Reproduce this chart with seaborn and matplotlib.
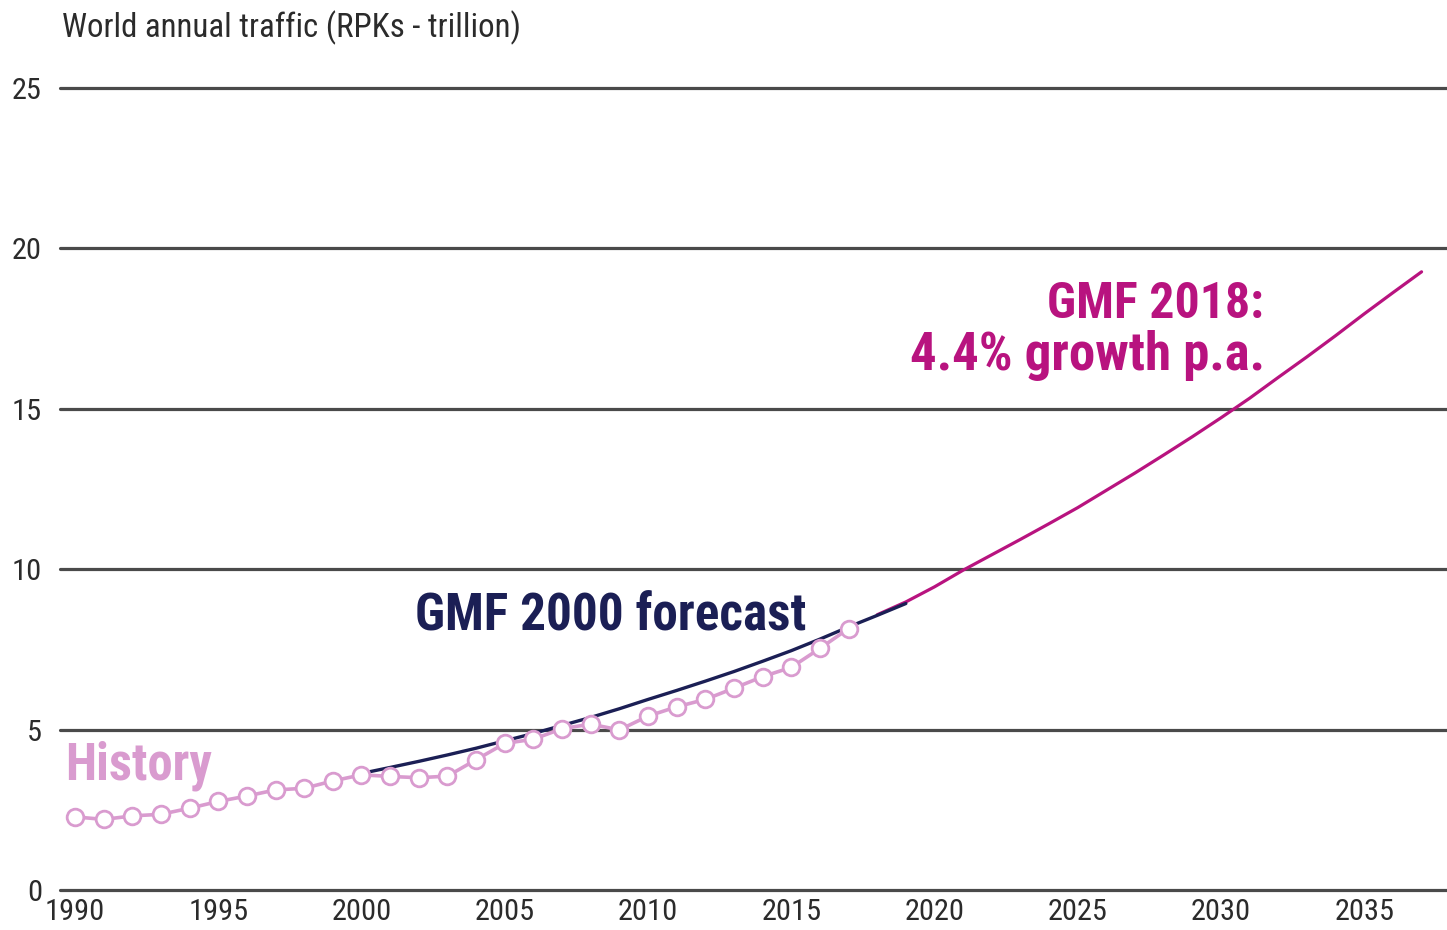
import matplotlib
matplotlib.use("Agg")
import matplotlib.pyplot as plt
import seaborn as sns
import pandas as pd
from matplotlib import font_manager

# ---------------- data ----------------
history_years = list(range(1990, 2018))
history_rpk = [2.28, 2.20, 2.31, 2.36, 2.55, 2.76, 2.93, 3.12, 3.17, 3.40,
               3.59, 3.54, 3.50, 3.55, 4.06, 4.57, 4.70, 5.03, 5.17, 4.99,
               5.42, 5.71, 5.94, 6.29, 6.65, 6.94, 7.53, 8.15]

gmf2000_years = [2000.3] + list(range(2001, 2020))
gmf2000_rpk = [3.69, 3.82, 4.01, 4.21, 4.42, 4.65, 4.88, 5.13, 5.38, 5.65,
               5.94, 6.22, 6.51, 6.81, 7.13, 7.46, 7.82, 8.20, 8.56, 8.93]

gmf2018_years = list(range(2018, 2038))
gmf2018_rpk = [8.58, 8.98, 9.45, 9.97, 10.45, 10.93, 11.42, 11.92, 12.46, 13.00,
               13.56, 14.13, 14.72, 15.33, 15.98, 16.62, 17.28, 17.96, 18.62, 19.27]

y_ticks = [0, 5, 10, 15, 20, 25]
x_ticks = [1990, 1995, 2000, 2005, 2010, 2015, 2020, 2025, 2030, 2035]

title_text = "World annual traffic (RPKs - trillion)"
label_history = "History"
label_gmf2000 = "GMF 2000 forecast"
label_gmf2018_a = "GMF 2018:"
label_gmf2018_b = "4.4% growth p.a."

# ---------------- style ----------------
sns.set_style("white")


def is_condensed(st):
    if isinstance(st, str):
        return "condensed" in st.lower() or "narrow" in st.lower()
    try:
        return int(st) < 100
    except Exception:
        return False


cond_names = {f.name for f in font_manager.fontManager.ttflist if is_condensed(f.stretch)}
prefs = ["Liberation Sans Narrow", "Roboto Condensed", "DejaVu Sans",
         "Open Sans", "Noto Sans", "Roboto"]
family = "DejaVu Sans"
stretch = "normal"
for p in prefs:
    if p in cond_names:
        family, stretch = p, "condensed"
        break
if stretch == "normal" and cond_names:
    family, stretch = sorted(cond_names)[0], "condensed"

plt.rcParams["font.family"] = [family, "DejaVu Sans"]
plt.rcParams["font.stretch"] = stretch

HIST_C = "#d99bcf"
NAVY_C = "#1b1f55"
MAG_C = "#b8137f"
GRID_C = "#4a4a4a"
TEXT_C = "#2b2b2b"

fig = plt.figure(figsize=(14.47, 9.30), dpi=100)
ax = fig.add_axes([60 / 1447, 40 / 930, 1 - 60 / 1447, 802 / 930])

x_left = 1990 - 15 / 28.65
x_right = 1990 + (1447 - 75) / 28.65
ax.set_xlim(x_left, x_right)
ax.set_ylim(0, 25)

for yv in y_ticks:
    ax.axhline(yv, color=GRID_C, lw=2.3, zorder=1, clip_on=False)

df_hist = pd.DataFrame({"year": history_years, "rpk": history_rpk})
df_2000 = pd.DataFrame({"year": gmf2000_years, "rpk": gmf2000_rpk})
df_2018 = pd.DataFrame({"year": gmf2018_years, "rpk": gmf2018_rpk})

sns.lineplot(data=df_2018, x="year", y="rpk", ax=ax, color=MAG_C, lw=2.3,
             zorder=3, estimator=None)
sns.lineplot(data=df_2000, x="year", y="rpk", ax=ax, color=NAVY_C, lw=2.4,
             zorder=4, estimator=None)
sns.lineplot(data=df_hist, x="year", y="rpk", ax=ax, color=HIST_C, lw=2.6,
             marker="o", markersize=12, markerfacecolor="white",
             markeredgecolor=HIST_C, markeredgewidth=2.0, zorder=5,
             estimator=None)

for s in ax.spines.values():
    s.set_visible(False)

ax.set_xticks(x_ticks)
ax.set_xticklabels([str(v) for v in x_ticks])
ax.set_yticks(y_ticks)
ax.set_yticklabels([str(v) for v in y_ticks])
ax.tick_params(axis="both", length=0, labelsize=22, labelcolor=TEXT_C)
ax.tick_params(axis="y", pad=13)
ax.tick_params(axis="x", pad=6)
ax.set_xlabel("")
ax.set_ylabel("")

title = fig.text(62 / 1447, 1 - 28 / 930, title_text, fontsize=22, color=TEXT_C,
                 ha="left", va="center")
t_hist = ax.text(1989.65, 3.43, label_history, fontsize=36, fontweight="bold",
                 color=HIST_C, ha="left", va="baseline")
t_2000 = ax.text(2001.87, 8.1, label_gmf2000, fontsize=36, fontweight="bold",
                 color=NAVY_C, ha="left", va="baseline")
t_2018a = ax.text(2031.5, 17.83, label_gmf2018_a, fontsize=36, fontweight="bold",
                  color=MAG_C, ha="right", va="baseline")
t_2018b = ax.text(2031.54, 16.2, label_gmf2018_b, fontsize=36, fontweight="bold",
                  color=MAG_C, ha="right", va="baseline")

# fit text sizes to the reference widths (pixels)
fig.canvas.draw()
renderer = fig.canvas.get_renderer()
targets = [(title, 458), (t_hist, 147), (t_2000, 392), (t_2018a, 217), (t_2018b, 355)]
for t, w in targets:
    cur = t.get_window_extent(renderer).width
    t.set_fontsize(t.get_fontsize() * w / cur)

lab = ax.get_xticklabels()[0]
cur = lab.get_window_extent(renderer).width
tick_fs = 22 * 60 / cur
ax.tick_params(axis="both", labelsize=tick_fs)

fig.savefig("out.png", dpi=100)
